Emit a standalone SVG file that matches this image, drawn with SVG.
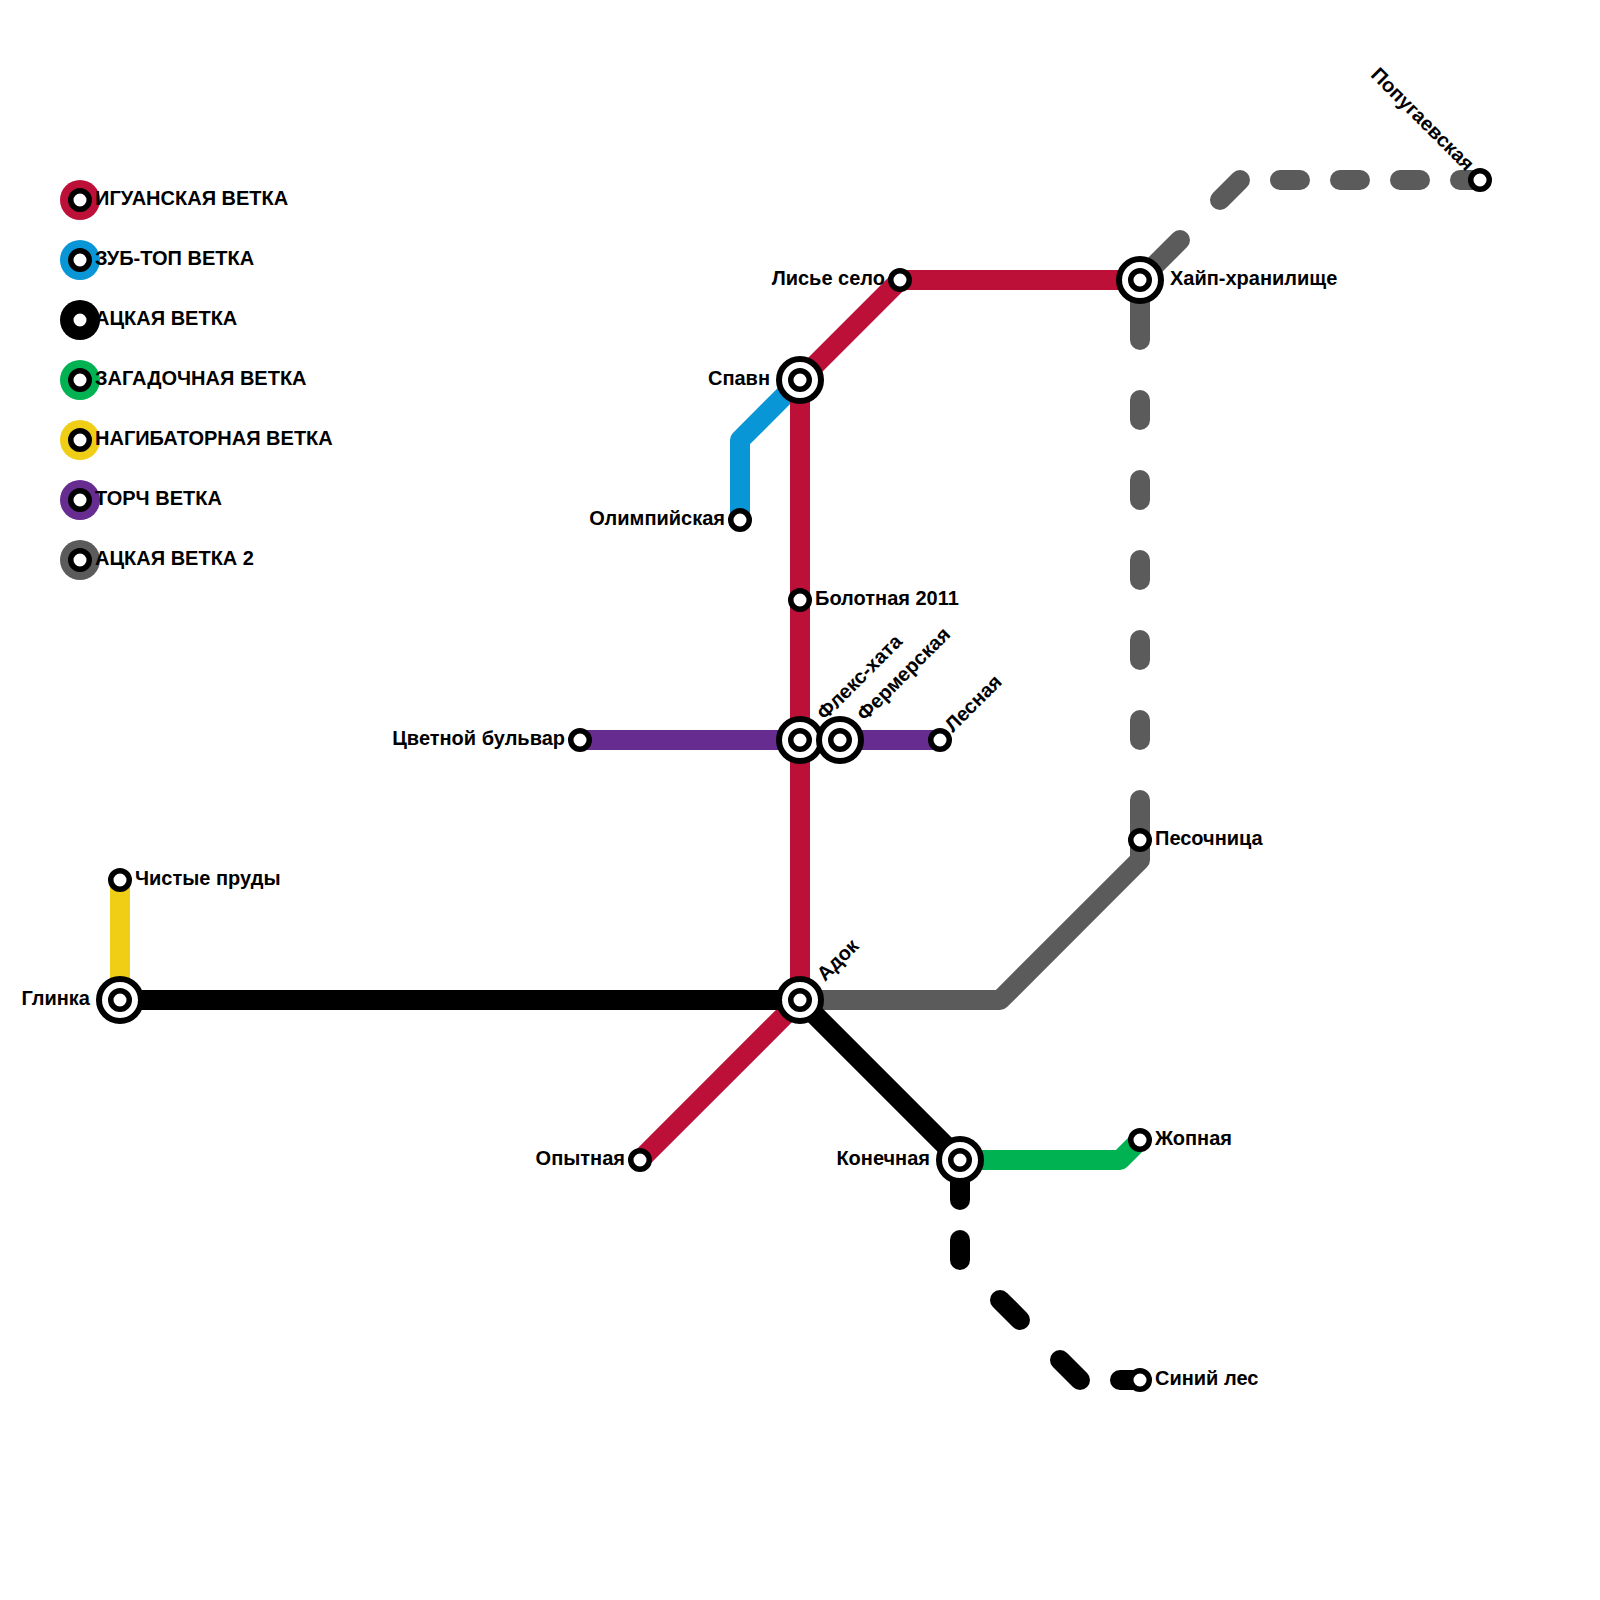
<svg xmlns="http://www.w3.org/2000/svg" width="1600" height="1600" viewBox="0 0 1600 1600">
<style>
.ln{fill:none;stroke-width:20;stroke-linejoin:round}
.ds{fill:none;stroke-width:20;stroke-linecap:round}
.red{stroke:#bd1038}.blue{stroke:#0896d7}.blk{stroke:#000}.grn{stroke:#00b251}.yel{stroke:#f0ce15}.pur{stroke:#662c90}.gry{stroke:#5b5b5b}
.st{fill:#fff;stroke:#000;stroke-width:5.5}
.ring{fill:#fff;stroke:#000;stroke-width:6}
text{font-family:"Liberation Sans",Arial,sans-serif;font-weight:700;font-size:20px;fill:#000}
.e{text-anchor:end}
</style>
<defs>
<g id="s"><circle class="st" r="9.25"/></g>
<g id="x"><circle class="ring" r="21"/><circle class="st" r="9.25"/></g>
</defs>
<g id="connectors">
<path class="ln yel" d="M120 880V1000"/>
<path class="ln blue" d="M800 380L740 440V520"/>
<path class="ln pur" d="M580 740H940"/>
<path class="ln red" d="M1140 280H900L800 380V1000L640 1160"/>
<path class="ln grn" d="M960 1160H1120L1140 1140"/>
<path class="ln gry" d="M800 1000H1000L1140 860V840"/>
<path class="ln blk" d="M120 1000H800L960 1160"/>
<path class="ds blk" d="M960 1160V1200M960 1240V1260M1000 1300L1020 1320M1060 1360L1080 1380M1120 1380H1140"/>
<path class="ds gry" d="M1140 280V340M1140 400V420M1140 480V500M1140 560V580M1140 640V660M1140 720V740M1140 800V840M1140 280L1180 240M1220 200L1240 180M1280 180H1300M1340 180H1360M1400 180H1420M1460 180H1480"/>
</g>
<g id="legend">
<g id="leg-1"><circle cx="80" cy="200" r="20" fill="#bd1038"/><use href="#s" x="80" y="200"/><text x="95" y="205">ИГУАНСКАЯ ВЕТКА</text></g>
<g id="leg-2"><circle cx="80" cy="260" r="20" fill="#0896d7"/><use href="#s" x="80" y="260"/><text x="95" y="265">ЗУБ-ТОП ВЕТКА</text></g>
<g id="leg-3"><circle cx="80" cy="320" r="20" fill="#000"/><use href="#s" x="80" y="320"/><text x="95" y="325">АЦКАЯ ВЕТКА</text></g>
<g id="leg-4"><circle cx="80" cy="380" r="20" fill="#00b251"/><use href="#s" x="80" y="380"/><text x="95" y="385">ЗАГАДОЧНАЯ ВЕТКА</text></g>
<g id="leg-5"><circle cx="80" cy="440" r="20" fill="#f0ce15"/><use href="#s" x="80" y="440"/><text x="95" y="445">НАГИБАТОРНАЯ ВЕТКА</text></g>
<g id="leg-6"><circle cx="80" cy="500" r="20" fill="#662c90"/><use href="#s" x="80" y="500"/><text x="95" y="505">ТОРЧ ВЕТКА</text></g>
<g id="leg-7"><circle cx="80" cy="560" r="20" fill="#5b5b5b"/><use href="#s" x="80" y="560"/><text x="95" y="565">АЦКАЯ ВЕТКА 2</text></g>
</g>
<g id="st-spawn"><use href="#x" x="800" y="380"/><text class="e" x="770" y="385">Спавн</text></g>
<g id="st-olymp"><use href="#s" x="740" y="520"/><text class="e" x="725" y="525">Олимпийская</text></g>
<g id="st-bolot"><use href="#s" x="800" y="600"/><text x="815" y="605">Болотная 2011</text></g>
<g id="st-flex"><use href="#x" x="800" y="740"/><text transform="translate(825 721) rotate(-45)">Флекс-хата</text></g>
<g id="st-ferm"><use href="#x" x="840" y="740"/><text transform="translate(865 722) rotate(-45)">Фермерская</text></g>
<g id="st-les"><use href="#s" x="940" y="740"/><text transform="translate(953 733) rotate(-45)">Лесная</text></g>
<g id="st-tsvet"><use href="#s" x="580" y="740"/><text class="e" x="565" y="745">Цветной бульвар</text></g>
<g id="st-chist"><use href="#s" x="120" y="880"/><text x="135" y="885">Чистые пруды</text></g>
<g id="st-glin"><use href="#x" x="120" y="1000"/><text class="e" x="90" y="1005">Глинка</text></g>
<g id="st-adok"><use href="#x" x="800" y="1000"/><text transform="translate(825 982) rotate(-45)">Адок</text></g>
<g id="st-opyt"><use href="#s" x="640" y="1160"/><text class="e" x="625" y="1165">Опытная</text></g>
<g id="st-konech"><use href="#x" x="960" y="1160"/><text class="e" x="930" y="1165">Конечная</text></g>
<g id="st-zhop"><use href="#s" x="1140" y="1140"/><text x="1155" y="1145">Жопная</text></g>
<g id="st-sin"><use href="#s" x="1140" y="1380"/><text x="1155" y="1385">Синий лес</text></g>
<g id="st-pes"><use href="#s" x="1140" y="840"/><text x="1155" y="845">Песочница</text></g>
<g id="st-lis"><use href="#s" x="900" y="280"/><text class="e" x="885" y="285">Лисье село</text></g>
<g id="st-hype"><use href="#x" x="1140" y="280"/><text x="1170" y="285">Хайп-хранилище</text></g>
<g id="st-pop"><use href="#s" x="1480" y="180"/><text class="e" transform="translate(1466 172) rotate(45)">Попугаевская</text></g>
</svg>
